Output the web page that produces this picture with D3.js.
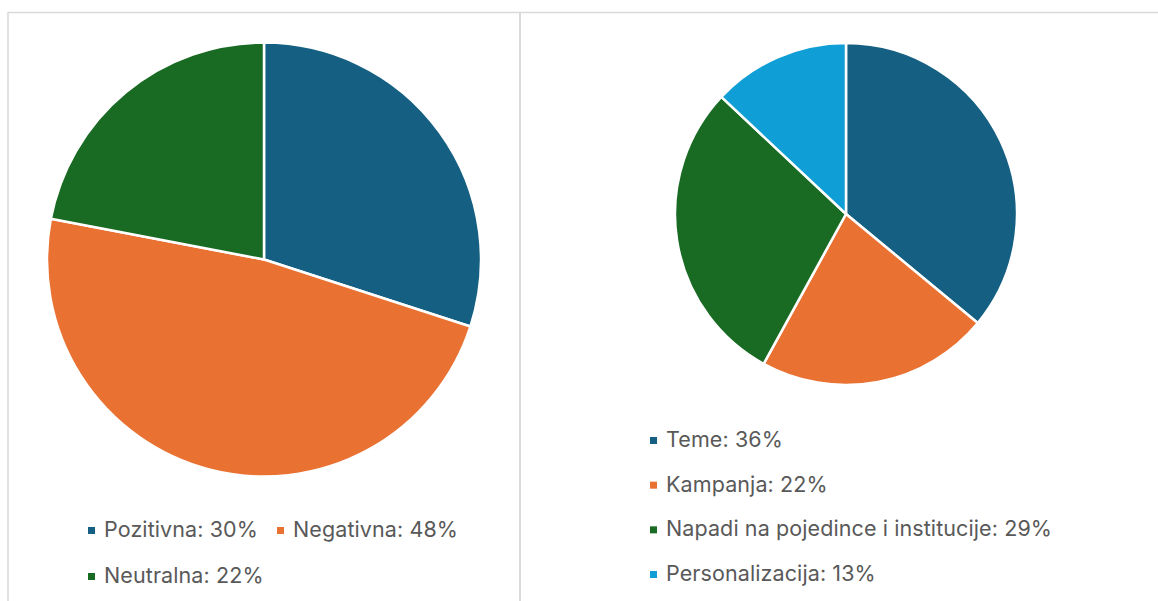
<!DOCTYPE html>
<html>
<head>
<meta charset="utf-8">
<script src="https://cdn.jsdelivr.net/npm/d3@7"></script>
<style>
  body { margin: 0; background: #fff; }
  svg text { font-family: "Inter", "Open Sans", sans-serif; fill: #595959; }
</style>
</head>
<body>
<div id="chart"></div>
<script>
// left pie: tone
var toneLabels = ["Pozitivna", "Negativna", "Neutralna"];
var toneValues = [30, 48, 22];

// right pie: topics
var topicLabels = ["Teme", "Kampanja", "Napadi na pojedince i institucije", "Personalizacija"];
var topicValues = [36, 22, 29, 13];

var colors = ["#156082", "#E97132", "#196B24", "#0F9ED5"];

var svgWidth = 1158;
var svgHeight = 601;

var svg = d3.select("#chart")
    .append("svg")
    .attr("width", svgWidth)
    .attr("height", svgHeight);

// frame lines
svg.append("line")
    .attr("x1", 8).attr("x2", svgWidth).attr("y1", 12.5).attr("y2", 12.5)
    .attr("stroke", "#d9d9d9").attr("stroke-width", 1.5);
svg.append("line")
    .attr("x1", 8).attr("x2", 8).attr("y1", 12).attr("y2", svgHeight)
    .attr("stroke", "#d9d9d9").attr("stroke-width", 1.5);
svg.append("line")
    .attr("x1", 520).attr("x2", 520).attr("y1", 12).attr("y2", svgHeight)
    .attr("stroke", "#d9d9d9").attr("stroke-width", 2);

var pie = d3.pie().sort(null).value(d => d);

function drawPie(values, cx, cy, r) {
    var arc = d3.arc().innerRadius(0).outerRadius(r);
    var g = svg.append("g")
        .attr("transform", `translate(${cx}, ${cy})`);
    g.selectAll("path")
        .data(pie(values))
        .enter()
        .append("path")
        .attr("d", arc)
        .attr("fill", (d, i) => colors[i])
        .attr("stroke", "#fff")
        .attr("stroke-width", 2.5)
        .attr("stroke-linejoin", "round");
}

drawPie(toneValues, 264, 259.5, 217);
drawPie(topicValues, 846, 214, 171);

function legendItem(x, y, label, value, color) {
    svg.append("rect")
        .attr("x", x).attr("y", y - 10)
        .attr("width", 7).attr("height", 7)
        .attr("fill", color);
    svg.append("text")
        .attr("x", x + 16).attr("y", y)
        .attr("font-size", 21.5)
        .attr("letter-spacing", 0.1)
        .text(`${label}: ${value}%`);
}

// left legend
legendItem(88, 537, toneLabels[0], toneValues[0], colors[0]);
legendItem(277, 537, toneLabels[1], toneValues[1], colors[1]);
legendItem(88, 583, toneLabels[2], toneValues[2], colors[2]);

// right legend
var legendY = d3.scalePoint()
    .domain(topicLabels)
    .range([447, 581]);
topicLabels.forEach(function(label, i) {
    legendItem(650, legendY(label), label, topicValues[i], colors[i]);
});
</script>
</body>
</html>
